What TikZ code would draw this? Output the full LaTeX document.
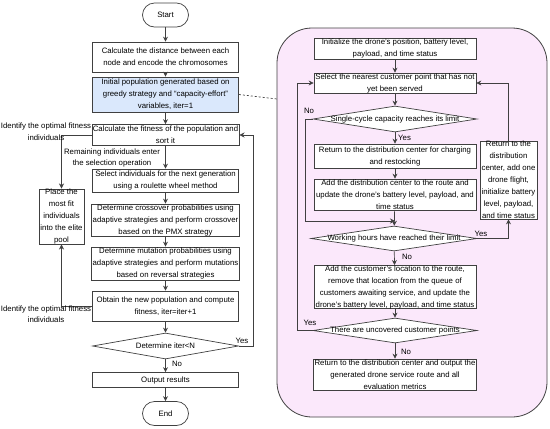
\documentclass[tikz,border=0pt]{standalone}
\usepackage{fontspec}
\setmainfont{Liberation Sans}
\usetikzlibrary{shapes.geometric,arrows.meta}
\definecolor{ln}{HTML}{404040}
\definecolor{bluef}{HTML}{DAE8FC}
\definecolor{pinkf}{HTML}{FBE8FB}
\begin{document}
\begin{tikzpicture}[x=1pt,y=-1pt,
  every node/.style={font=\fontsize{7.8}{12}\selectfont},
  box/.style={draw=ln, line width=0.7pt, fill=white, align=center, inner xsep=1pt, inner ysep=0pt, minimum width=146},
  rbox/.style={box, minimum width=162},
  term/.style={draw=ln, line width=0.7pt, fill=white, rounded corners=12, minimum width=46, minimum height=24, inner sep=0},
  dia/.style={draw=ln, line width=0.7pt, fill=white, diamond, inner sep=0},
  dtxt/.style={inner sep=0, align=center},
  arr/.style={draw=ln, line width=0.7pt, -{Stealth[length=5pt,width=5pt]}},
  lbl/.style={inner sep=0, align=center, font=\fontsize{7.8}{11.5}\selectfont},
  panel/.style={draw=ln, line width=0.8pt, fill=pinkf, rounded corners=35, minimum width=270, minimum height=389, inner sep=0}
]
\useasboundingbox (0,0) rectangle (550,429);

% right panel
\node[panel] (panel) at (412,222.5) {};

% left column
\node[term] (start) at (165.5,15) {Start};
\node[box, minimum height=30] (b1) at (165.5,57) {Calculate the distance between each\\node and encode the chromosomes};
\node[box, minimum height=35, fill=bluef] (b2) at (165.5,94.5) {Initial population generated based on\\greedy strategy and ``capacity-effort''\\variables, iter=1};
\node[box, minimum height=21] (b3) at (165.5,135) {Calculate the fitness of the population and\\sort it};
\node[box, minimum height=23] (b4) at (165.5,180.5) {Select individuals for the next generation\\using a roulette wheel method};
\node[box, minimum height=32] (b5) at (165.5,220) {Determine crossover probabilities using\\adaptive strategies and perform crossover\\based on the PMX strategy};
\node[box, minimum height=33] (b6) at (165.5,263.5) {Determine mutation probabilities using\\adaptive strategies and perform mutations\\based on reversal strategies};
\node[box, minimum height=30] (b7) at (165.5,306) {Obtain the new population and compute\\fitness, iter=iter+1};
\node[dia, minimum width=146, minimum height=26] (dd) at (165.5,346) {};
\node[dtxt] (ddt) at (dd) {Determine iter<N};
\node[box, minimum height=15] (out) at (165.5,380) {Output results};
\node[term] (end) at (165.5,413.5) {End};
\node[box, minimum width=45, minimum height=53, inner xsep=0pt] (elite) at (61.5,216.5) {Place the\\most fit\\individuals\\into the elite\\pool};

\draw[arr] (start) -- (b1);
\draw[arr] (b1) -- (b2);
\draw[arr] (b2) -- (b3);
\draw[arr] (b3) -- (b4);
\draw[arr] (b4) -- (b5);
\draw[arr] (b5) -- (b6);
\draw[arr] (b6) -- (b7);
\draw[arr] (b7) -- (dd);
\draw[arr] (dd) -- (out);
\draw[arr] (out) -- (end);
\draw[arr] (b3.west) -| (elite.north);
\draw[arr] (b7.west) -| (elite.south);
\coordinate (yl) at (253,346);
\draw[arr] (dd.east) -- (yl) |- (b3.east);
\coordinate (pd) at (277,99);
\draw[draw=ln, line width=0.7pt, dash pattern=on 2pt off 2pt] (b2.east) -- (pd);

\node[lbl] (l1) at (46,131.5) {Identify the optimal fitness\\individuals};
\node[lbl] (l2) at (46,314) {Identify the optimal fitness\\individuals};
\node[lbl] (l3) at (112,158) {Remaining individuals enter\\the selection operation};
\node[lbl] (l4) at (242,341) {Yes};
\node[lbl] (l5) at (177,364) {No};

% right column
\node[rbox, minimum height=21] (r1) at (395,48.5) {Initialize the drone's position, battery level,\\payload, and time status};
\node[rbox, minimum height=20] (r2) at (395,83) {Select the nearest customer point that has not\\yet been served};
\node[dia, minimum width=164, minimum height=26] (d1) at (395,119) {};
\node[dtxt] (d1t) at (d1) {Single-cycle capacity reaches its limit};
\node[rbox, minimum height=24] (r3) at (395,156) {Return to the distribution center for charging\\and restocking};
\node[rbox, minimum height=31] (r4) at (395,194.5) {Add the distribution center to the route and\\update the drone's battery level, payload, and\\time status};
\node[box, minimum width=57, minimum height=78, inner xsep=0pt] (side) at (508.5,180) {Return to the\\distribution\\center, add one\\drone flight,\\initialize battery\\level, payload,\\and time status};
\node[dia, minimum width=166, minimum height=25] (d2) at (394,238.5) {};
\node[dtxt] (d2t) at (d2) {Working hours have reached their limit};
\node[rbox, minimum height=40] (r5) at (395,287) {Add the customer's location to the route,\\remove that location from the queue of\\customers awaiting service, and update the\\drone's battery level, payload, and time status};
\node[dia, minimum width=164, minimum height=25] (d3) at (395,330.5) {};
\node[dtxt] (d3t) at (d3) {There are uncovered customer points};
\node[rbox, minimum height=31] (r6) at (395,374.5) {Return to the distribution center and output the\\generated drone service route and all\\evaluation metrics};

\draw[arr] (r1) -- (r2);
\draw[arr] (r2) -- (d1);
\draw[arr] (d1) -- (r3);
\draw[arr] (r3) -- (r4);
\draw[arr] (r4) -- (d2);
\coordinate (c1) at (305,119);
\coordinate (c2) at (305,221);
\coordinate (j1) at (395,221);
\draw[arr] (d1.west) -- (c1) -- (c2) -- (j1);
\draw[arr] (d2.east) -| (side.south);
\draw[arr] (side.north) |- (r2.east);
\draw[arr] (d2) -- (r5);
\draw[arr] (r5) -- (d3);
\coordinate (c4) at (297,330.5);
\draw[arr] (d3.west) -- (c4) |- (r2.west);
\draw[arr] (d3) -- (r6);

\node[lbl, anchor=west] (y1) at (398,138) {Yes};
\node[lbl] (n1) at (309,111) {No};
\node[lbl] (y2) at (481,234) {Yes};
\node[lbl] (n2) at (407,257) {No};
\node[lbl] (y3) at (310,323) {Yes};
\node[lbl] (n3) at (406,352) {No};
\end{tikzpicture}
\end{document}
